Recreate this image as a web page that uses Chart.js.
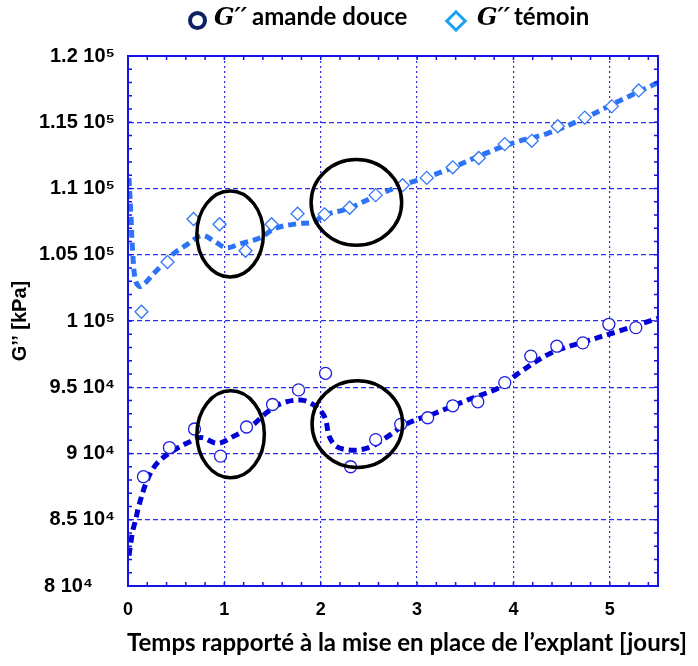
<!DOCTYPE html>
<html>
<head>
<meta charset="utf-8">
<script src="https://cdn.jsdelivr.net/npm/chart.js@4.4.0/dist/chart.umd.min.js"></script>
<style>
body { margin: 0; background: #fff; }
#wrap { position: relative; width: 698px; height: 666px; }
#legend span { position: absolute; }
.mk-circ { left: 188px; top: 11px; width: 11px; height: 11px; border: 4px solid #0d2260; border-radius: 50%; }
.mk-diam { left: 448px; top: 13px; width: 10px; height: 10px; border: 3.5px solid #1aa3f0; transform: rotate(45deg); }
.g { top: 2px; font: italic bold 24px "DejaVu Serif", serif; color: #000; }
.t { top: 1px; font: bold 24px Lato, sans-serif; color: #000; }
</style>
</head>
<body>
<div id="wrap">
<canvas id="chart" width="698" height="666"></canvas>
<div id="legend">
  <span class="mk-circ"></span><span class="g" style="left:214px">G′′</span><span class="t" style="left:252px">amande douce</span>
  <span class="mk-diam"></span><span class="g" style="left:477px">G′′</span><span class="t" style="left:514px">témoin</span>
</div>
</div>
<script>
// mesures (points)
const xMise = [0.16, 0.43, 0.69, 0.96, 1.23, 1.50, 1.77, 2.05, 2.31, 2.57, 2.83, 3.11, 3.37, 3.63, 3.91, 4.18, 4.45, 4.72, 4.99, 5.27]
const yMise = [88250, 90450, 91850, 89800, 92000, 93700, 94800, 96050, 89000, 91050, 92200, 92700, 93600, 93900, 95350, 97350, 98100, 98350, 99750, 99500]

const xTemoin = [0.14, 0.41, 0.68, 0.95, 1.22, 1.49, 1.76, 2.04, 2.30, 2.57, 2.85, 3.10, 3.37, 3.64, 3.91, 4.19, 4.46, 4.74, 5.02, 5.30]
const yTemoin = [100700, 104450, 107700, 107300, 105300, 107300, 108100, 108050, 108550, 109500, 110250, 110800, 111600, 112300, 113350, 113600, 114700, 115350, 116200, 117400]

// courbes d'ajustement
const xFitMise = [0.01, 0.03, 0.05, 0.08, 0.11, 0.2, 0.3, 0.45, 0.62, 0.76, 0.93, 1.1, 1.27, 1.45, 1.59, 1.79, 1.93, 2.04, 2.09, 2.17, 2.35, 2.52, 2.69, 2.9, 3.18, 3.52, 3.87, 4.04, 4.38, 4.73, 5.07, 5.5]
const yFitMise = [82300, 83300, 84200, 85000, 86000, 88000, 89250, 90130, 90810, 91200, 90760, 91310, 92010, 93150, 93780, 94030, 93650, 92770, 91260, 90500, 90250, 90500, 91260, 92270, 93020, 94030, 95030, 95990, 97550, 98420, 99180, 100200]

const xFitTemoin = [0.01, 0.03, 0.05, 0.08, 0.13, 0.27, 0.45, 0.62, 0.77, 0.89, 1.02, 1.17, 1.38, 1.52, 1.76, 1.93, 2.03, 2.28, 2.55, 2.79, 3.0, 3.31, 3.66, 4.0, 4.35, 4.69, 5.04, 5.5]
const yFitTemoin = [110800, 108000, 105000, 103000, 102600, 103600, 104950, 105800, 106450, 106040, 105540, 105840, 106300, 106980, 107350, 107470, 107980, 108480, 109360, 110110, 110620, 111400, 112500, 113450, 114150, 115150, 116400, 118000]

const xTickValues = [0, 1, 2, 3, 4, 5]
const xTickLabels = ["0", "1", "2", "3", "4", "5"]
const yTickValues = [80000, 85000, 90000, 95000, 100000, 105000, 110000, 115000, 120000]
const yTickLabels = ["8 10⁴    ", "8.5 10⁴", "9 10⁴", "9.5 10⁴", "1 10⁵", "1.05 10⁵", "1.1 10⁵", "1.15 10⁵", "1.2 10⁵"]

// ellipses tracées sur la figure (unités des axes)
const ellipses = [
    {x: 1.06, y: 106570, rx: 0.345, ry: 3250},
    {x: 2.37, y: 108950, rx: 0.47, ry: 3230},
    {x: 1.065, y: 91450, rx: 0.35, ry: 3280},
    {x: 2.38, y: 92220, rx: 0.47, ry: 3270}
]

const frameColor = "rgb(20,20,230)"
const gridColor = "rgb(45,45,225)"

const toPoints = (xs, ys) => xs.map((x, i) => ({x: x, y: ys[i]}))

const framePlugin = {
    id: "frame",
    afterDraw(chart) {
        const ctx = chart.ctx
        const a = chart.chartArea
        const xs = chart.scales.x
        const ys = chart.scales.y
        ctx.save()

        ctx.strokeStyle = "#000"
        ctx.lineWidth = 3.5
        ellipses.forEach(e => {
            const cx = xs.getPixelForValue(e.x)
            const cy = ys.getPixelForValue(e.y)
            const rx = Math.abs(xs.getPixelForValue(e.x + e.rx) - cx)
            const ry = Math.abs(ys.getPixelForValue(e.y + e.ry) - cy)
            ctx.beginPath()
            ctx.ellipse(cx, cy, rx, ry, 0, 0, 2 * Math.PI)
            ctx.stroke()
        })

        ctx.strokeStyle = frameColor
        ctx.lineWidth = 2
        ctx.strokeRect(a.left, a.top, a.right - a.left, a.bottom - a.top)

        // petites graduations vers l'intérieur
        ctx.lineWidth = 1.5
        ctx.beginPath()
        for (let i = 0; i * 0.2 <= 5.5; i++) {
            const px = xs.getPixelForValue(i * 0.2)
            ctx.moveTo(px, a.top); ctx.lineTo(px, a.top + 4)
            ctx.moveTo(px, a.bottom); ctx.lineTo(px, a.bottom - 4)
        }
        for (let v = 80000; v <= 120000; v += 1000) {
            const py = ys.getPixelForValue(v)
            ctx.moveTo(a.left, py); ctx.lineTo(a.left + 4, py)
            ctx.moveTo(a.right, py); ctx.lineTo(a.right - 4, py)
        }
        ctx.stroke()

        ctx.fillStyle = "#000"
        ctx.font = "bold 24px Lato"
        ctx.textAlign = "left"
        ctx.textBaseline = "middle"
        ctx.fillText("Temps rapporté à la mise en place de l’explant [jours]", a.left - 1, 643)
        ctx.restore()
    }
}

const ctx = document.getElementById("chart").getContext("2d")
const chart = new Chart(ctx, {
    type: "scatter",
    data: {
        datasets: [
            {
                label: "G'' amande douce",
                data: toPoints(xMise, yMise),
                pointStyle: "circle",
                pointRadius: 6,
                borderWidth: 1.3,
                borderColor: "rgb(30,30,225)",
                backgroundColor: "#fff"
            },
            {
                label: "G'' témoin",
                data: toPoints(xTemoin, yTemoin),
                pointStyle: "rectRot",
                pointRadius: 6.5,
                borderWidth: 1.3,
                borderColor: "rgb(50,120,245)",
                backgroundColor: "#fff"
            },
            {
                label: "ajustement amande douce",
                data: toPoints(xFitMise, yFitMise),
                showLine: true,
                pointRadius: 0,
                borderColor: "rgb(0,0,215)",
                borderWidth: 5,
                borderDash: [8, 5],
                tension: 0.35
            },
            {
                label: "ajustement témoin",
                data: toPoints(xFitTemoin, yFitTemoin),
                showLine: true,
                pointRadius: 0,
                borderColor: "rgb(45,115,245)",
                borderWidth: 5,
                borderDash: [8, 5],
                tension: 0.35
            }
        ]
    },
    options: {
        responsive: false,
        animation: false,
        devicePixelRatio: 1,
        layout: {padding: {top: 56, right: 40, left: 0, bottom: 0}},
        plugins: {legend: {display: false}, tooltip: {enabled: false}},
        scales: {
            x: {
                type: "linear",
                min: 0,
                max: 5.5,
                afterBuildTicks: s => { s.ticks = xTickValues.map(v => ({value: v})) },
                ticks: {
                    callback: (v, i) => xTickLabels[i],
                    font: {family: "Liberation Sans", weight: "bold", size: 18},
                    color: "#000",
                    padding: 13,
                    maxRotation: 0
                },
                grid: {color: gridColor, lineWidth: 1.2, drawTicks: false},
                border: {display: true, color: frameColor, width: 2, dash: [2, 3]},
                afterFit: s => { s.height = 80 }
            },
            y: {
                type: "linear",
                min: 80000,
                max: 120000,
                afterBuildTicks: s => { s.ticks = yTickValues.map(v => ({value: v})) },
                ticks: {
                    callback: (v, i) => yTickLabels[i],
                    font: {family: "Liberation Sans", weight: "bold", size: 20},
                    color: "#000",
                    padding: 13
                },
                grid: {color: gridColor, lineWidth: 1.2, drawTicks: false},
                border: {display: true, color: frameColor, width: 2, dash: [5, 3]},
                title: {
                    display: true,
                    text: "G’’ [kPa]",
                    font: {family: "Liberation Sans", weight: "bold", size: 20},
                    color: "#000",
                    padding: {top: 8, bottom: 0}
                },
                afterFit: s => { s.width = 128 }
            }
        }
    },
    plugins: [framePlugin]
})
</script>
</body>
</html>
